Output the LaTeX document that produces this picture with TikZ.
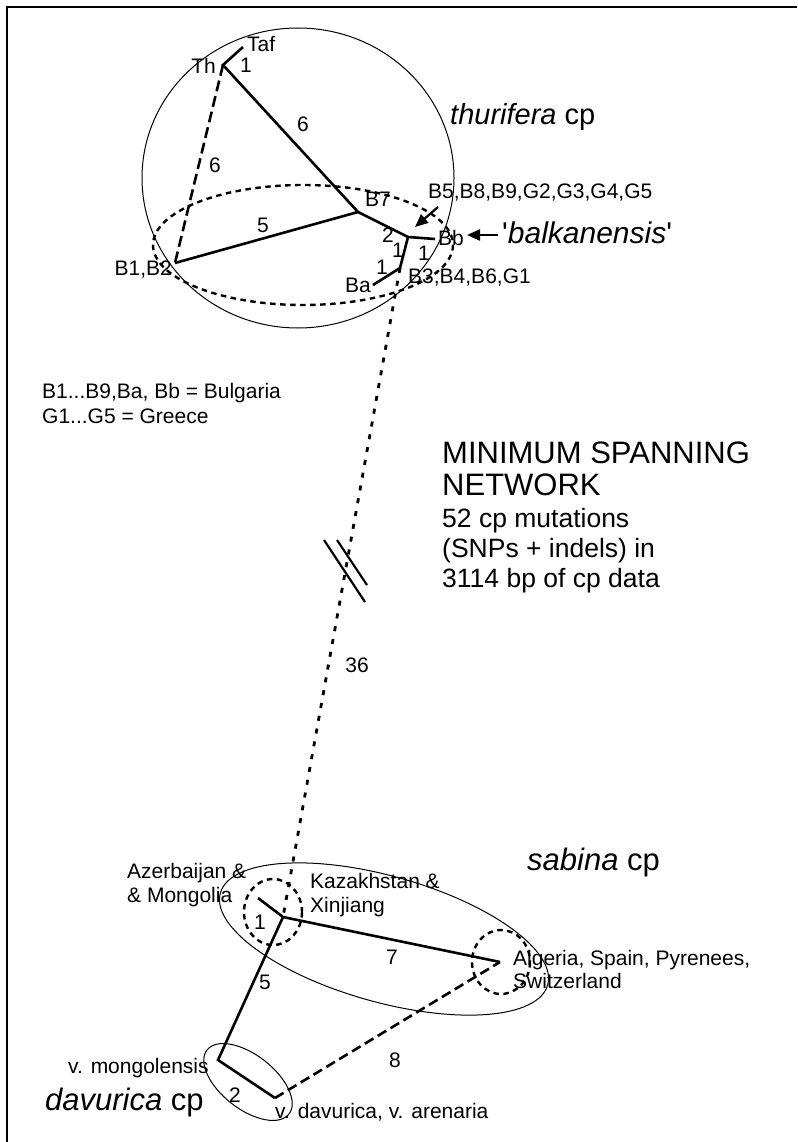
\documentclass[tikz,border=0pt]{standalone}
\usepackage{fontspec}
\setmainfont{Liberation Sans}
\usetikzlibrary{arrows.meta}
\begin{document}
\begin{tikzpicture}[x=1pt,y=-1pt,
 net/.style={line width=2.6pt},
 netdash/.style={line width=2.6pt, dash pattern=on 11pt off 5pt},
 netdashb/.style={line width=2.6pt, dash pattern=on 10pt off 5pt},
 dotln/.style={line width=2.8pt, dash pattern=on 5pt off 8pt},
 dotring/.style={line width=2.4pt, dash pattern=on 5.5pt off 4.5pt},
 hull/.style={line width=1pt},
 brk/.style={line width=2.2pt},
 lbl/.style={inner sep=0pt, font=\fontsize{21}{25}\selectfont},
 big/.style={inner sep=0pt, font=\fontsize{31}{33}\selectfont},
 mid/.style={inner sep=0pt, font=\fontsize{26.5}{30}\selectfont},
 grp/.style={inner sep=0pt, font=\fontsize{31}{34}\selectfont},
 ptr/.style={line width=2.2pt, -{Triangle[length=13pt,width=11pt]}}
]
\useasboundingbox (0,0) rectangle (797,1142);
\fill[white] (0,0) rectangle (797,1142);
\draw[line width=2.5pt] (7,1142) -- (7,7) -- (797,7);

% ---------- thurifera group ----------
\draw[hull] (298,178) ellipse [x radius=156, y radius=150];
\draw[dotring] (303,245) ellipse [x radius=150, y radius=60];

\coordinate (Th) at (223,65);
\coordinate (Taf) at (243,47);
\coordinate (B7) at (358,212);
\coordinate (B12) at (175,263);
\coordinate (J) at (408,237);
\coordinate (Bb) at (435,239);
\coordinate (K) at (400,268);
\coordinate (Ba) at (373,285);

\draw[net] (Taf) -- (Th) -- (B7) -- (B12);
\draw[netdash] (Th) -- (B12);
\draw[net] (B7) -- (J) -- (Bb);
\draw[net] (J) -- (K) -- (Ba);

\node[lbl, anchor=base east] (lTh) at (216,74) {Th};
\node[lbl, anchor=base west] (lTaf) at (247,52) {Taf};
\node[lbl, anchor=base west] (n1a) at (240,73) {1};
\node[lbl] (n6a) at (303,124) {6};
\node[lbl] (n6b) at (215,165) {6};
\node[lbl] (n5a) at (263,225) {5};
\node[lbl] (n2a) at (388,235) {2};
\node[lbl] (n1b) at (398,250) {1};
\node[lbl] (n1c) at (424,253) {1};
\node[lbl] (n1d) at (382,267) {1};
\node[lbl, anchor=base east] (lB12) at (172,275) {B1,B2};
\node[lbl, anchor=base west] (lB7) at (365,207) {B7};
\node[lbl, anchor=base west] (lBb) at (438,245) {Bb};
\node[lbl, anchor=base west] (lBa) at (345,292) {Ba};
\node[lbl, anchor=base west] (lB3) at (408,283) {B3;B4,B6,G1};
\node[lbl, anchor=base west] (lB5) at (428,198) {B5,B8,B9,G2,G3,G4,G5};
\node[grp, anchor=base west, font=\fontsize{30}{32}\selectfont] (lbalk) at (502,243) {\textquotesingle\textit{balkanensis}\textquotesingle};
\node[grp, anchor=base west, font=\fontsize{29}{32}\selectfont] (lthur) at (450,125) {\textit{thurifera} cp};

\coordinate (pa1) at (438,207);
\coordinate (pa2) at (415,227);
\draw[ptr] (pa1) -- (pa2);
\coordinate (pb1) at (498,235);
\coordinate (pb2) at (467,235);
\draw[ptr] (pb1) -- (pb2);

% ---------- legend and title ----------
\node[lbl, anchor=base west] (leg1) at (42,398) {B1...B9,Ba, Bb = Bulgaria};
\node[lbl, anchor=base west] (leg2) at (42,423) {G1...G5 = Greece};

\node[big, anchor=base west] (t1) at (442,463) {MINIMUM SPANNING};
\node[big, anchor=base west] (t2) at (442,495) {NETWORK};
\node[mid, anchor=base west] (t3) at (442,527) {52 cp mutations};
\node[mid, anchor=base west] (t4) at (442,557) {(SNPs + indels) in};
\node[mid, anchor=base west] (t5) at (442,587) {3114 bp of cp data};

% ---------- sabina group ----------
\coordinate (S) at (283,917);
\coordinate (Az) at (258,898);
\coordinate (A) at (500,962);
\coordinate (M) at (218,1060);
\coordinate (D) at (275,1098);

\draw[hull, rotate around={-15.7:(384,939)}] (384,939) ellipse [x radius=170, y radius=63];
\draw[hull, rotate around={-38:(248,1082)}] (248,1082) ellipse [x radius=52, y radius=27];
\draw[dotring] (273,912) ellipse [x radius=29, y radius=33];
\draw[dotring] (501,962) ellipse [x radius=29, y radius=32];

\draw[dotln] (K) -- (S);
\draw[brk] (324,540) -- (365,602);
\draw[brk] (337,540) -- (367,585);
\node[lbl] (n36) at (357,665) {36};

\draw[net] (Az) -- (S) -- (A);
\draw[net] (S) -- (M) -- (D);
\draw[netdashb] (D) -- (A);

\node[lbl] (n1e) at (260,922) {1};
\node[lbl] (n7) at (392,957) {7};
\node[lbl] (n5b) at (265,982) {5};
\node[lbl] (n8) at (395,1060) {8};
\node[lbl] (n2b) at (235,1095) {2};

\node[grp, anchor=base west] (lsab) at (527,870) {\textit{sabina} cp};
\node[lbl, anchor=base west] (lAz1) at (127,878) {Azerbaijan \&};
\node[lbl, anchor=base west] (lAz2) at (127,902) {\& Mongolia};
\node[lbl, anchor=base west] (lKz1) at (310,888) {Kazakhstan \&};
\node[lbl, anchor=base west] (lKz2) at (310,912) {Xinjiang};
\node[lbl, anchor=base west] (lAl1) at (513,965) {Algeria, Spain, Pyrenees,};
\node[lbl, anchor=base west] (lAl2) at (513,988) {Switzerland};
\node[lbl, anchor=base west] (lmon) at (68,1073) {v. mongolensis};
\node[grp, anchor=base west] (ldav) at (45,1110) {\textit{davurica} cp};
\node[lbl, anchor=base west] (ldv) at (275,1118) {v. davurica, v. arenaria};
\end{tikzpicture}
\end{document}
